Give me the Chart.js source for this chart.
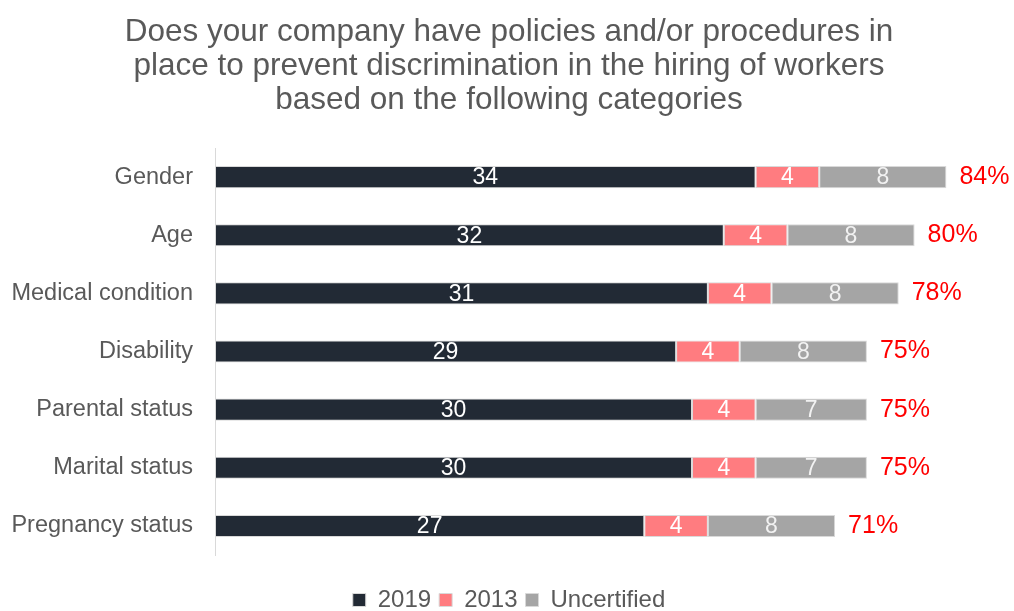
<!DOCTYPE html>
<html lang="en">
<head>
  <meta charset="UTF-8">
  <title>Hiring discrimination policies</title>
  <script src="https://cdn.jsdelivr.net/npm/chart.js"></script>
  <style>
    body {
      margin: 0;
      padding: 0;
      background: #ffffff;
      overflow: hidden;
    }

    .chart-box {
      position: relative;
      width: 1014px;
      height: 622px;
    }
  </style>
</head>
<body>
  <div class="chart-box">
    <canvas id="barCanvas"></canvas>
  </div>

  <script>
    const categories = ['Gender', 'Age', 'Medical condition', 'Disability', 'Parental status', 'Marital status', 'Pregnancy status'];
    const values2019 = [34, 32, 31, 29, 30, 30, 27];
    const values2013 = [4, 4, 4, 4, 4, 4, 4];
    const valuesUncertified = [8, 8, 8, 8, 7, 7, 8];
    const totalPercent = ['84%', '80%', '78%', '75%', '75%', '75%', '71%'];

    const fontFamily = "'Liberation Sans', Arial, sans-serif";
    const textGray = '#595959';

    // writes the segment values inside the bars and the red totals after them
    const valueLabels = {
      id: 'valueLabels',
      afterDatasetsDraw(chart) {
        const ctx = chart.ctx;
        ctx.save();
        ctx.textBaseline = 'middle';
        chart.data.datasets.forEach((ds, i) => {
          const meta = chart.getDatasetMeta(i);
          meta.data.forEach((bar, j) => {
            ctx.font = '23px ' + fontFamily;
            ctx.textAlign = 'center';
            ctx.fillStyle = ds.labelColor;
            ctx.fillText(ds.data[j], (bar.x + bar.base) / 2, bar.y + 1);
            if (i === chart.data.datasets.length - 1) {
              ctx.font = '25px ' + fontFamily;
              ctx.textAlign = 'left';
              ctx.fillStyle = '#ff0000';
              ctx.fillText(totalPercent[j], bar.x + 13, bar.y);
            }
          });
        });
        ctx.restore();
      }
    };

    const ctx = document.getElementById('barCanvas').getContext('2d');

    new Chart(ctx, {
      type: 'bar',
      data: {
        labels: categories,
        datasets: [{
          label: '2019',
          data: values2019,
          backgroundColor: '#222a35',
          labelColor: '#ffffff'
        }, {
          label: '2013',
          data: values2013,
          backgroundColor: '#ff7c80',
          labelColor: '#ffffff'
        }, {
          label: 'Uncertified',
          data: valuesUncertified,
          backgroundColor: '#a5a5a5',
          labelColor: '#f2f2f2'
        }]
      },
      options: {
        indexAxis: 'y',
        responsive: true,
        maintainAspectRatio: false,
        animation: false,
        datasets: {
          bar: {
            categoryPercentage: 1,
            barPercentage: 0.38,
            borderWidth: 1,
            borderColor: '#d9d9d9',
            borderSkipped: false
          }
        },
        layout: {
          padding: { left: 8, right: 4, top: 0, bottom: 0 }
        },
        plugins: {
          title: {
            display: true,
            text: [
              'Does your company have policies and/or procedures in',
              'place to prevent discrimination in the hiring of workers',
              'based on the following categories'
            ],
            color: textGray,
            font: { family: fontFamily, size: 31.5, weight: 'normal', lineHeight: 1.08 },
            padding: { top: 15, bottom: 31 }
          },
          legend: {
            position: 'bottom',
            labels: {
              color: textGray,
              font: { family: fontFamily, size: 24 },
              boxWidth: 13,
              boxHeight: 13,
              padding: 8
            }
          },
          tooltip: { enabled: false }
        },
        scales: {
          x: {
            stacked: true,
            min: 0,
            max: 50,
            grid: { display: false },
            border: { display: false },
            ticks: { display: false },
            afterFit(scale) {
              scale.height = 25;
            }
          },
          y: {
            stacked: true,
            grid: { display: false },
            border: { display: true, color: '#d9d9d9', width: 1 },
            ticks: {
              color: textGray,
              font: { family: fontFamily, size: 23.5 },
              padding: 14
            },
            afterFit(scale) {
              scale.width = 207;
            }
          }
        }
      },
      plugins: [valueLabels]
    });
  </script>
</body>
</html>
